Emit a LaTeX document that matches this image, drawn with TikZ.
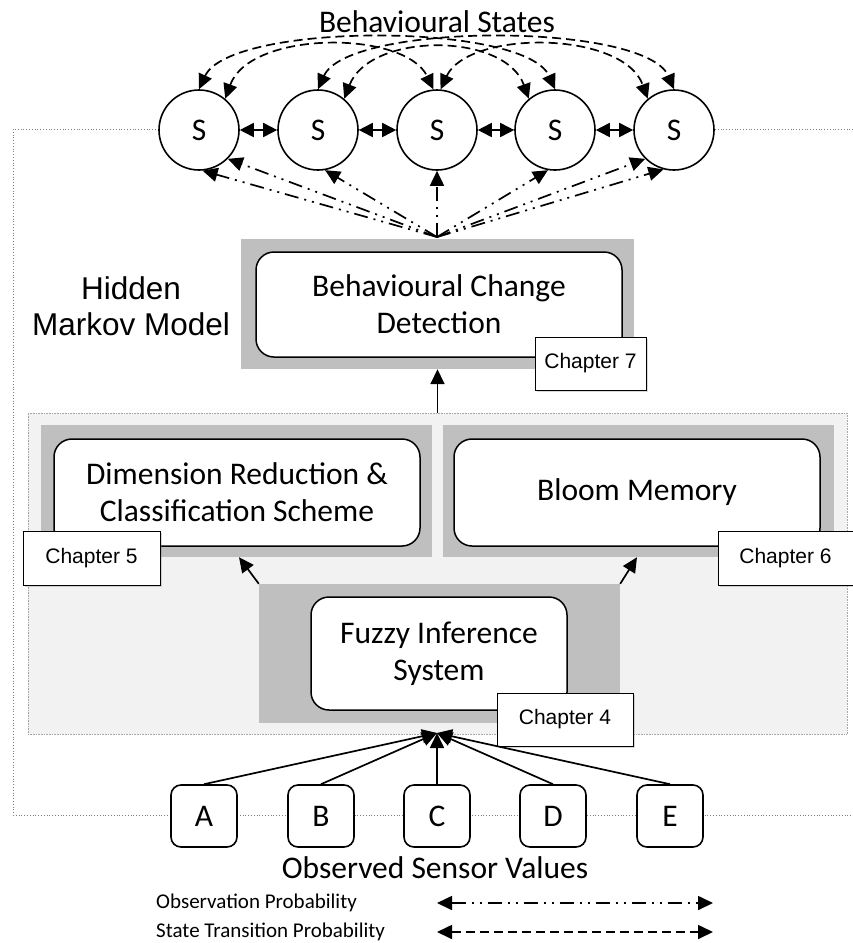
\documentclass[tikz,border=0pt]{standalone}
\usepackage{fontspec}
\setmainfont{Carlito}
\newfontfamily\arialfont{Liberation Sans}
\usetikzlibrary{arrows.meta,shadows,calc}
\definecolor{boxgray}{HTML}{BFBFBF}
\definecolor{panelgray}{HTML}{F2F2F2}
\definecolor{panelline}{HTML}{A6A6A6}
\definecolor{framegray}{HTML}{7F7F7F}
\begin{document}
\begin{tikzpicture}[x=1pt,y=-1pt,
  bigtxt/.style={font=\fontsize{31.5}{37}\selectfont},
  grayb/.style={fill=boxgray, draw=none, inner sep=0pt},
  whiteb/.style={fill=white, draw=black, line width=1.5pt, rounded corners=18pt, inner sep=0pt, align=center, bigtxt},
  chap/.style={fill=white, draw=black, line width=0.8pt, inner sep=0pt, font=\arialfont\fontsize{21}{25}\selectfont, drop shadow={opacity=0.3,shadow xshift=2pt,shadow yshift=-2pt}},
  state/.style={circle, draw=black, fill=white, line width=1.6pt, minimum size=80pt, inner sep=0pt, bigtxt},
  sensor/.style={rectangle, rounded corners=10pt, draw=black, fill=white, line width=1.6pt, minimum width=66pt, minimum height=62pt, inner sep=0pt, bigtxt},
  solidarr/.style={line width=1.7pt, -{Triangle[length=15pt,width=14pt]}},
  bothsolid/.style={line width=1.7pt, {Triangle[length=14pt,width=14pt]}-{Triangle[length=14pt,width=14pt]}},
  trans/.style={line width=1.7pt, dash pattern=on 9pt off 5pt, {Triangle[length=15pt,width=14pt]}-{Triangle[length=15pt,width=14pt]}},
  obs/.style={line width=1.7pt, dash pattern=on 14pt off 6pt on 2pt off 6pt on 2pt off 6pt, -{Triangle[length=15pt,width=14pt]}},
  obsboth/.style={obs, {Triangle[length=15pt,width=14pt]}-{Triangle[length=15pt,width=14pt]}},
]
\useasboundingbox (0,0) rectangle (852,943);

% outer dotted frame
\draw[framegray, line width=0.8pt, dotted] (853,129) -- (13,129) -- (13,815) -- (853,815);

% title
\node[bigtxt] (title) at (437,22) {Behavioural States};

% states
\node[state] (s1) at (199,130) {S};
\node[state] (s2) at (318,130) {S};
\node[state] (s3) at (437,130) {S};
\node[state] (s4) at (555,130) {S};
\node[state] (s5) at (674,130) {S};

\draw[bothsolid] (s1) -- (s2);
\draw[bothsolid] (s2) -- (s3);
\draw[bothsolid] (s3) -- (s4);
\draw[bothsolid] (s4) -- (s5);

% transition arcs
\draw[trans] (s1.north) .. controls (230,22) and (525,22) .. (s4.north);
\draw[trans] (s2.north) .. controls (348,22) and (645,22) .. (s5.north);
\draw[trans] (s1.50) .. controls (250,30) and (405,30) .. (s3.95);
\draw[trans] (s3.85) .. controls (468,30) and (623,30) .. (s5.130);
\draw[trans] (s2.50) .. controls (370,32) and (505,32) .. (s4.130);

% hidden markov label
\node[font=\arialfont\fontsize{31.5}{36}\selectfont, align=center] (hmm) at (131,306) {Hidden\\Markov Model};

% behavioural change detection
\node[grayb, minimum width=393pt, minimum height=130pt] (bcdg) at (437.5,304) {};
\node[whiteb, minimum width=366pt, minimum height=105pt] (bcd) at (439,304.5) {Behavioural Change\\Detection};
\node[chap, minimum width=111pt, minimum height=53pt] (ch7) at (590.5,363.5) {Chapter 7};

% observation lines
\coordinate (o) at (437,237);
\draw[obs] (o) -- (s1.-85);
\draw[obs] (o) -- (s1.-45);
\draw[obs] (o) -- (s2.-80);
\draw[obs] (o) -- (s3.south);
\draw[obs] (o) -- (s4.-100);
\draw[obs] (o) -- (s5.-135);
\draw[obs] (o) -- (s5.-105);

% light panel
\node[fill=panelgray, draw=panelline, line width=0.6pt, densely dotted, minimum width=819pt, minimum height=321pt, inner sep=0pt] (panel) at (437.5,573.5) {};

\draw[solidarr] (panel.north -| bcdg.south) -- (bcdg.south);

\node[grayb, minimum width=391pt, minimum height=132pt] (drg) at (236.5,491) {};
\node[whiteb, minimum width=366pt, minimum height=107pt] (dr) at (237,492.5) {Dimension Reduction \&\\Classification Scheme};
\node[grayb, minimum width=391pt, minimum height=132pt] (blg) at (638.5,491) {};
\node[whiteb, minimum width=366pt, minimum height=107pt] (bl) at (637,492.5) {Bloom Memory};
\node[chap, minimum width=137pt, minimum height=54pt] (ch5) at (91.5,558) {Chapter 5};
\node[chap, minimum width=135pt, minimum height=54pt] (ch6) at (785.5,558) {Chapter 6};

\node[grayb, minimum width=361pt, minimum height=139pt] (fzg) at (439.5,653.5) {};
\node[whiteb, minimum width=256pt, minimum height=113pt] (fz) at (439,653.5) {Fuzzy Inference\\System};
\node[chap, minimum width=136pt, minimum height=53pt] (ch4) at (565,719.5) {Chapter 4};

\draw[solidarr] (fzg.north west) -- ($(drg.south)+(2.5,0)$);
\draw[solidarr] (fzg.north east) -- ($(blg.south)+(-1.5,0)$);

% sensors
\node[sensor] (a) at (204,816) {A};
\node[sensor] (b) at (321,816) {B};
\node[sensor] (c) at (437,816) {C};
\node[sensor] (d) at (553,816) {D};
\node[sensor] (e) at (670,816) {E};
\coordinate (conv) at (437,733);
\foreach \n in {a,b,c,d,e} \draw[solidarr] (\n.north) -- (conv);

\node[bigtxt] (osv) at (435,868) {Observed Sensor Values};

% legend
\node[font=\fontsize{21}{25}\selectfont, anchor=west, inner sep=0pt] (lg1) at (156,903) {Observation Probability};
\node[font=\fontsize{21}{25}\selectfont, anchor=west, inner sep=0pt] (lg2) at (156,932) {State Transition Probability};
\coordinate (l1a) at (437,903);
\coordinate (l1b) at (713,903);
\coordinate (l2a) at (437,932);
\coordinate (l2b) at (713,932);
\draw[obsboth] (l1a) -- (l1b);
\draw[trans] (l2a) -- (l2b);
\end{tikzpicture}
\end{document}
